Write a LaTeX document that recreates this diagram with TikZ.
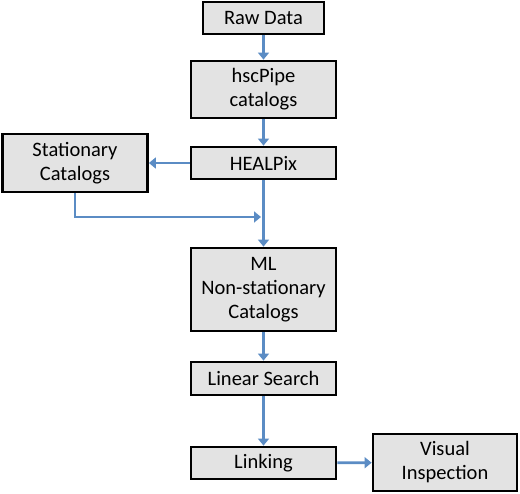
\documentclass[tikz,border=0pt]{standalone}
\usepackage{fontspec}
\setmainfont{Carlito}
\usetikzlibrary{arrows.meta}
\definecolor{boxfill}{HTML}{E3E3E3}
\definecolor{arrowblue}{HTML}{5B8CC4}
\begin{document}
\begin{tikzpicture}[x=1pt,y=-1pt,
  box/.style={draw=black,fill=boxfill,line width=2.8pt,align=center,font=\fontsize{20.5}{24}\selectfont,inner sep=0pt},
  conn/.style={draw=arrowblue,line width=2.8pt,-{Triangle[length=7pt,width=11pt]}}]
\useasboundingbox (0,0) rectangle (520,494);
\node[box,minimum width=121pt,minimum height=32pt] (raw) at (263.5,18) {Raw Data};
\node[box,minimum width=145pt,minimum height=57pt] (hsc) at (263.5,89.5) {hscPipe\\catalogs};
\node[box,minimum width=145pt,minimum height=32pt] (heal) at (263.5,163) {HEALPix};
\node[box,minimum width=145pt,minimum height=58pt] (stat) at (75,163) {Stationary\\Catalogs};
\node[box,minimum width=145pt,minimum height=83pt] (ml) at (263.5,289.5) {ML\\Non-stationary\\Catalogs};
\node[box,minimum width=145pt,minimum height=33pt] (lin) at (263.5,378.5) {Linear Search};
\node[box,minimum width=145pt,minimum height=32pt] (link) at (263.5,463) {Linking};
\node[box,minimum width=144pt,minimum height=57pt] (vis) at (445,462.5) {Visual\\Inspection};
\coordinate (join) at (261,217);
\draw[conn] (raw) -- (hsc);
\draw[conn] (hsc) -- (heal);
\draw[conn] (heal.west) -- (stat.east);
\draw[conn] (heal) -- (ml);
\draw[conn] (stat.south) |- (join);
\draw[conn] (ml) -- (lin);
\draw[conn] (lin) -- (link);
\draw[conn] (link) -- (vis);
\end{tikzpicture}
\end{document}
